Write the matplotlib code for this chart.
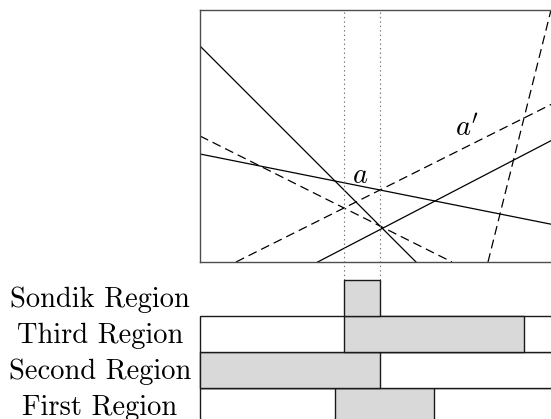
import matplotlib
matplotlib.use("Agg")
import matplotlib.pyplot as plt
from matplotlib.patches import Rectangle

plt.rcParams["mathtext.fontset"] = "cm"
plt.rcParams["lines.scale_dashes"] = False

# Value-function hyperplanes (y = slope * x + intercept)
solid_slopes = [-1.0, -0.2, 0.52]
solid_intercepts = [6.0, 3.0, -1.7]
dashed_slopes = [-0.5, 0.5, 4.0]
dashed_intercepts = [3.5, -0.5, -32.0]

# Region bounds on the belief axis
sondik_bounds = [4.0, 5.0]
regions = ["First Region", "Second Region", "Third Region", "Sondik Region"]
region_lo = [3.75, 0.0, 4.0, 4.0]
region_hi = [6.5, 5.0, 9.0, 5.0]
has_row_box = [True, True, True, False]

X_MAX = 10.0
Y_MAX = 7.0
GAP = 0.5

W, H = 551, 419
fig = plt.figure(figsize=(W / 100, H / 100), dpi=100)

ax = fig.add_axes([200 / W, (H - 262) / H, 360 / W, 252 / H])
ax.set_xlim(0, X_MAX)
ax.set_ylim(0, Y_MAX)
ax.set_xticks([])
ax.set_yticks([])
for s in ax.spines.values():
    s.set_color("0.3")
    s.set_linewidth(1.0)

for m, b in zip(solid_slopes, solid_intercepts):
    ax.axline((0, b), slope=m, color="black", lw=0.9)
for m, b in zip(dashed_slopes, dashed_intercepts):
    ax.axline((0, b), slope=m, color="black", lw=0.9,
              linestyle=(0, (6.5, 3.6)))

ax.vlines(sondik_bounds, -GAP, Y_MAX, colors="0.45", lw=0.8,
          linestyles=(0, (1.0, 2.2)), clip_on=False)

ax.text(4.46, 2.43, r"$a$", fontsize=20.5, ha="center", va="center")
ax.text(7.42, 3.72, r"$a'$", fontsize=20.5, ha="center", va="center")

# Region bars
bx = fig.add_axes([200 / W, (H - 424) / H, 360 / W, 144 / H])
bx.set_xlim(0, X_MAX)
bx.set_ylim(0, len(regions))
bx.axis("off")

for i, (name, lo, hi, box) in enumerate(zip(regions, region_lo, region_hi, has_row_box)):
    if box:
        bx.add_patch(Rectangle((0, i), X_MAX, 1, facecolor="white",
                               edgecolor="0.1", lw=1.0, clip_on=False))
    bx.add_patch(Rectangle((lo, i), hi - lo, 1, facecolor="0.85",
                           edgecolor="0.1", lw=1.0, clip_on=False))
    bx.text(-100 / 36, i + 0.5 - 8.7 / 36, name, family="cmr10", fontsize=20.5,
            ha="center", va="baseline", clip_on=False)

fig.savefig("out.png", dpi=100)
